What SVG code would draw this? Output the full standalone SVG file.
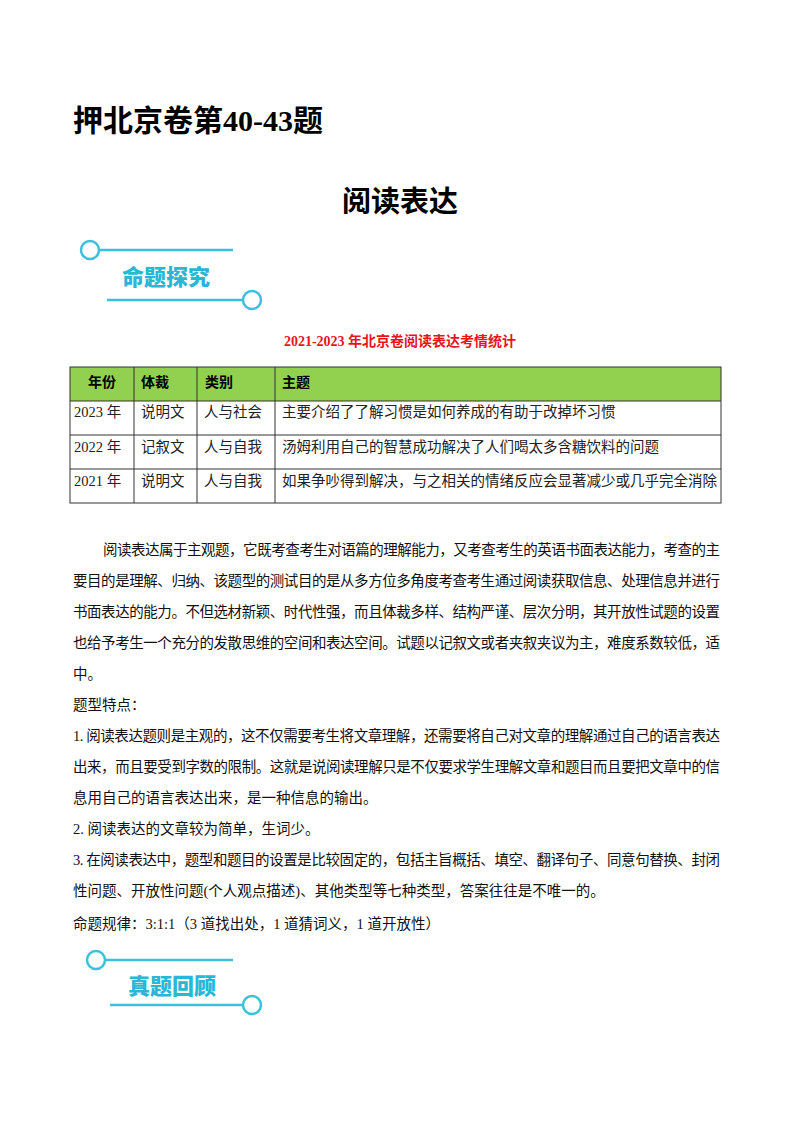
<svg xmlns="http://www.w3.org/2000/svg" width="800" height="1132" viewBox="0 0 800 1132">
<style>
.t{font-family:"Liberation Serif","Noto Sans CJK SC",serif;font-size:14.5px;fill:#111}
.h{font-family:"Liberation Serif","Noto Sans CJK SC",serif;font-weight:bold;fill:#000}
.b{font-family:"Noto Sans CJK SC",sans-serif;font-weight:900;font-size:22px;fill:#2ab6d6}
.bl{stroke:#3cc0dc;stroke-width:2.5;fill:none}
.g{stroke:#333;stroke-width:1;fill:none}
.c{font-family:"Liberation Serif","Noto Sans CJK SC",serif;font-size:14.5px;fill:#222}
</style>
<rect width="800" height="1132" fill="#fff"/>
<text class="h" x="73" y="131" font-size="30">押北京卷第40-43题</text>
<text class="h" x="400" y="212" font-size="29" text-anchor="middle">阅读表达</text>
<g id="badge1">
<circle class="bl" cx="90" cy="250" r="9"/><line class="bl" x1="99" y1="250" x2="233" y2="250"/>
<text class="b" x="122" y="285">命题探究</text>
<line class="bl" x1="107" y1="300" x2="243" y2="300"/><circle class="bl" cx="252" cy="300" r="9"/>
</g>
<text x="400" y="346" text-anchor="middle" font-family="Liberation Serif,Noto Sans CJK SC,serif" font-weight="bold" font-size="14" fill="#e8141c">2021-2023 年北京卷阅读表达考情统计</text>
<g id="table">
<rect x="70" y="367" width="651" height="34" fill="#92d050"/>
<rect class="g" x="70" y="367" width="651" height="136"/>
<line class="g" x1="70" y1="401" x2="721" y2="401"/><line class="g" x1="70" y1="435" x2="721" y2="435"/><line class="g" x1="70" y1="469" x2="721" y2="469"/>
<line class="g" x1="134" y1="367" x2="134" y2="503"/><line class="g" x1="197" y1="367" x2="197" y2="503"/><line class="g" x1="275" y1="367" x2="275" y2="503"/>
<g class="h" font-size="14"><text x="88" y="387">年份</text><text x="141" y="387">体裁</text><text x="205" y="387">类别</text><text x="282" y="387">主题</text></g>
<text class="c" x="74" y="417">2023 年</text><text class="c" x="141" y="417">说明文</text><text class="c" x="204" y="417">人与社会</text><text class="c" x="282" y="417">主要介绍了了解习惯是如何养成的有助于改掉坏习惯</text>
<text class="c" x="74" y="452">2022 年</text><text class="c" x="141" y="452">记叙文</text><text class="c" x="204" y="452">人与自我</text><text class="c" x="282" y="452">汤姆利用自己的智慧成功解决了人们喝太多含糖饮料的问题</text>
<text class="c" x="74" y="486">2021 年</text><text class="c" x="141" y="486">说明文</text><text class="c" x="204" y="486">人与自我</text><text class="c" x="282" y="486">如果争吵得到解决，与之相关的情绪反应会显著减少或几乎完全消除</text>
</g>
<g id="body">
<text class="t" x="103" y="555" textLength="617" lengthAdjust="spacing">阅读表达属于主观题，它既考查考生对语篇的理解能力，又考查考生的英语书面表达能力，考查的主</text>
<text class="t" x="73" y="586" textLength="647" lengthAdjust="spacing">要目的是理解、归纳、该题型的测试目的是从多方位多角度考查考生通过阅读获取信息、处理信息并进行</text>
<text class="t" x="73" y="617" textLength="647" lengthAdjust="spacing">书面表达的能力。不但选材新颖、时代性强，而且体裁多样、结构严谨、层次分明，其开放性试题的设置</text>
<text class="t" x="73" y="648" textLength="647" lengthAdjust="spacing">也给予考生一个充分的发散思维的空间和表达空间。试题以记叙文或者夹叙夹议为主，难度系数较低，适</text>
<text class="t" x="73" y="679">中。</text>
<text class="t" x="73" y="710">题型特点：</text>
<text class="t" x="73" y="741" textLength="647" lengthAdjust="spacing">1. 阅读表达题则是主观的，这不仅需要考生将文章理解，还需要将自己对文章的理解通过自己的语言表达</text>
<text class="t" x="73" y="772" textLength="647" lengthAdjust="spacing">出来，而且要受到字数的限制。这就是说阅读理解只是不仅要求学生理解文章和题目而且要把文章中的信</text>
<text class="t" x="73" y="803">息用自己的语言表达出来，是一种信息的输出。</text>
<text class="t" x="73" y="834">2. 阅读表达的文章较为简单，生词少。</text>
<text class="t" x="73" y="865" textLength="647" lengthAdjust="spacing">3. 在阅读表达中，题型和题目的设置是比较固定的，包括主旨概括、填空、翻译句子、同意句替换、封闭</text>
<text class="t" x="73" y="896">性问题、开放性问题(个人观点描述)、其他类型等七种类型，答案往往是不唯一的。</text>
<text class="t" x="73" y="929">命题规律：3:1:1（3 道找出处，1 道猜词义，1 道开放性）</text>
</g>
<g id="badge2">
<circle class="bl" cx="96" cy="960" r="9"/><line class="bl" x1="105" y1="960" x2="233" y2="960"/>
<text class="b" x="128" y="994">真题回顾</text>
<line class="bl" x1="110" y1="1005" x2="243" y2="1005"/><circle class="bl" cx="252" cy="1005" r="9"/>
</g>
</svg>
